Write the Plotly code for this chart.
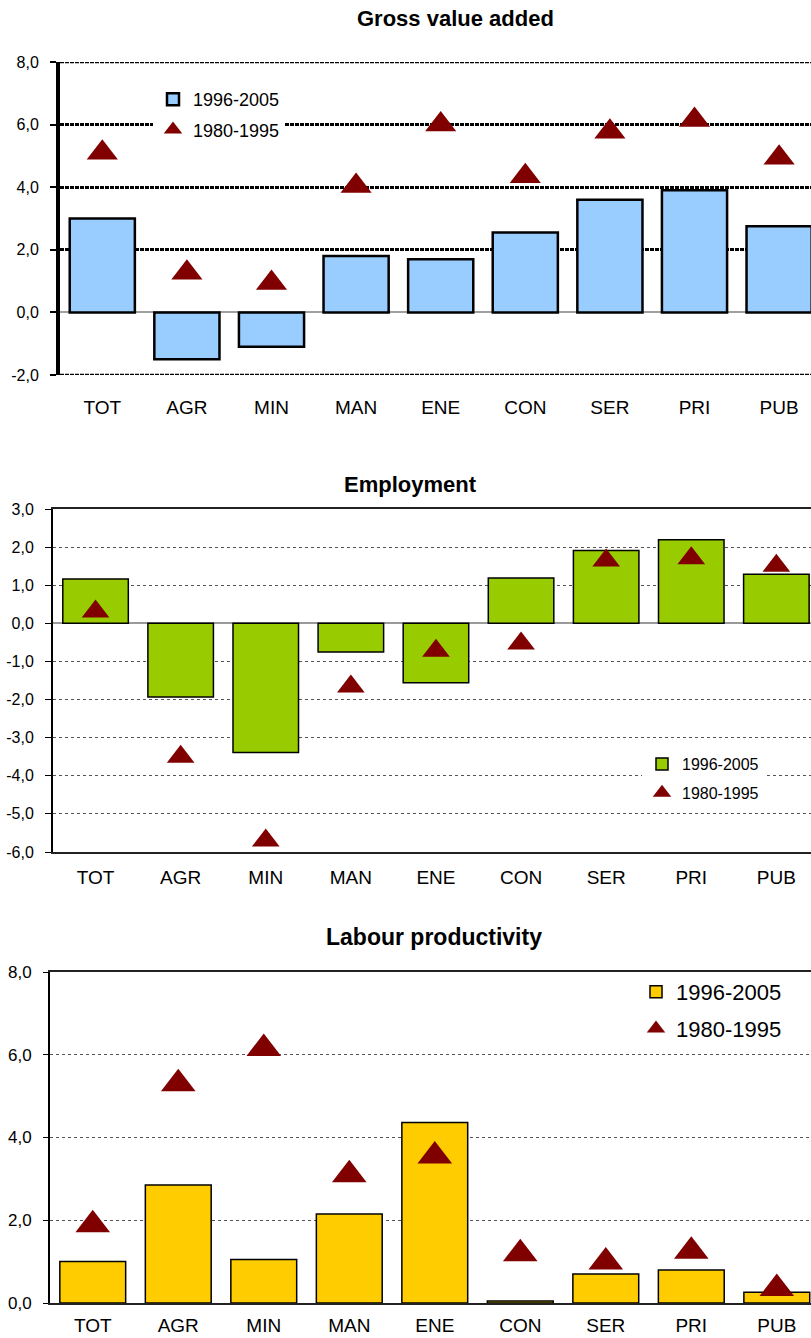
import plotly.graph_objects as go

# ---- data -----------------------------------------------------------------
categories = ["TOT", "AGR", "MIN", "MAN", "ENE", "CON", "SER", "PRI", "PUB"]
periods = ["1996-2005", "1980-1995"]

gva_recent = [3.0, -1.5, -1.1, 1.8, 1.7, 2.55, 3.6, 3.9, 2.75]
gva_early = [5.1, 1.27, 0.94, 4.04, 6.0, 4.35, 5.77, 6.15, 4.94]

emp_recent = [1.16, -1.93, -3.39, -0.75, -1.56, 1.19, 1.91, 2.19, 1.29]
emp_early = [0.31, -3.5, -5.7, -1.66, -0.72, -0.53, 1.65, 1.71, 1.51]

prod_recent = [1.0, 2.85, 1.05, 2.15, 4.36, 0.05, 0.70, 0.80, 0.26]
prod_early = [1.89, 5.30, 6.15, 3.10, 3.55, 1.19, 0.99, 1.25, 0.35]

gva_ticks = [-2, 0, 2, 4, 6, 8]
gva_ticklabels = ["-2,0", "0,0", "2,0", "4,0", "6,0", "8,0"]
emp_ticks = [-6, -5, -4, -3, -2, -1, 0, 1, 2, 3]
emp_ticklabels = ["-6,0", "-5,0", "-4,0", "-3,0", "-2,0", "-1,0", "0,0", "1,0", "2,0", "3,0"]
prod_ticks = [0, 2, 4, 6, 8]
prod_ticklabels = ["0,0", "2,0", "4,0", "6,0", "8,0"]

titles = ["Gross value added", "Employment", "Labour productivity"]

# ---- page geometry (pixels) ----------------------------------------------
W, H = 811, 1338
FONT = "Liberation Sans, Arial, sans-serif"
DARKRED = "#800000"


def py(px):
    """pixel row -> paper fraction"""
    return 1 - px / H


fig = go.Figure()

panels = [
    dict(recent=gva_recent, early=gva_early, color="#99CCFF", edge=2.5,
         tri=27, legend="legend", ax=""),
    dict(recent=emp_recent, early=emp_early, color="#99CC00", edge=1.5,
         tri=24, legend="legend2", ax="2"),
    dict(recent=prod_recent, early=prod_early, color="#FFCC00", edge=1.5,
         tri=30, legend="legend3", ax="3"),
]

for p in panels:
    xa, ya = "x" + p["ax"], "y" + p["ax"]
    fig.add_trace(go.Bar(
        x=categories, y=p["recent"], name=periods[0], width=0.77,
        marker=dict(color=p["color"], line=dict(color="black", width=p["edge"])),
        xaxis=xa, yaxis=ya, legend=p["legend"], legendgroup=p["legend"] + "a",
    ))
    fig.add_trace(go.Scatter(
        x=categories, y=p["early"], name=periods[1], mode="markers",
        marker=dict(symbol="triangle-up", size=p["tri"], color=DARKRED),
        xaxis=xa, yaxis=ya, legend=p["legend"], legendgroup=p["legend"] + "b",
    ))

common_y = dict(tickfont=dict(family=FONT, size=16, color="black"),
                ticks="outside", ticklen=6, tickcolor="black", automargin=False)
common_x = dict(type="category", tickfont=dict(family=FONT, size=19, color="black"),
                ticks="", fixedrange=True, automargin=False)

fig.update_layout(
    # Gross value added: heavy dashed grid, thick left axis
    xaxis=dict(domain=[60 / W, 1], range=[-0.5, 8.377], anchor="y",
               showline=False, showgrid=False, zeroline=False,
               ticklabelstandoff=19, **common_x),
    yaxis=dict(domain=[py(375), py(62)], range=[-2, 8], anchor="x",
               tickvals=gva_ticks, ticktext=gva_ticklabels,
               showgrid=True, gridcolor="black", gridwidth=2.5, griddash="4px,1px",
               zeroline=True, zerolinecolor="#a0a0a0", zerolinewidth=2,
               showline=True, linecolor="black", linewidth=4, tickwidth=2,
               ticklabelstandoff=8, **common_y),
    # Employment: thin dashed grid, framed top and bottom
    xaxis2=dict(domain=[53 / W, 1], range=[-0.5, 8.407], anchor="y2",
                showline=True, mirror=True, linecolor="#222", linewidth=2,
                showgrid=False, zeroline=False, ticklabelstandoff=7, **common_x),
    yaxis2=dict(domain=[py(852), py(509)], range=[-6, 3], anchor="x2",
                tickvals=emp_ticks, ticktext=emp_ticklabels,
                showgrid=True, gridcolor="#555", gridwidth=1, griddash="3px,3px",
                zeroline=True, zerolinecolor="#9a9a9a", zerolinewidth=2,
                showline=True, linecolor="black", linewidth=2, tickwidth=1,
                ticklabelstandoff=8, **common_y),
    # Labour productivity
    xaxis3=dict(domain=[50 / W, 1], range=[-0.5, 8.4], anchor="y3",
                showline=True, mirror=True, linecolor="#222", linewidth=2,
                showgrid=False, zeroline=False, ticklabelstandoff=4, **common_x),
    yaxis3=dict(domain=[py(1303), py(972)], range=[0, 8], anchor="x3",
                tickvals=prod_ticks, ticktext=prod_ticklabels,
                showgrid=True, gridcolor="#555", gridwidth=1, griddash="3px,3px",
                zeroline=False,
                showline=True, linecolor="black", linewidth=2, tickwidth=1,
                ticklabelstandoff=8, automargin=False,
                tickfont=dict(family=FONT, size=17, color="black"),
                ticks="outside", ticklen=5, tickcolor="black"),
)

# heavy dashed frame lines at the top and bottom of the value-added panel
for yv in (gva_ticks[0], gva_ticks[-1]):
    fig.add_shape(type="line", xref="x domain", yref="y", x0=0, x1=1, y0=yv, y1=yv,
                  line=dict(color="black", width=2.5, dash="4px,1px"), layer="below")

legend_base = dict(borderwidth=0, xanchor="left", yanchor="top",
                   traceorder="grouped", itemclick=False)
fig.update_layout(
    legend=dict(x=153 / W, y=py(81), font=dict(family=FONT, size=18, color="black"),
                tracegroupgap=4, bgcolor="white", **legend_base),
    legend2=dict(x=642 / W, y=py(747), font=dict(family=FONT, size=16, color="black"),
                 tracegroupgap=5, bgcolor="white", **legend_base),
    legend3=dict(x=636 / W, y=py(971), font=dict(family=FONT, size=22, color="black"),
                 tracegroupgap=5, bgcolor="rgba(255,255,255,0)", **legend_base),
)

title_pos = [(455, 19, 22), (410, 484, 22), (434, 937, 23)]
for text, (cx, cy, size) in zip(titles, title_pos):
    fig.add_annotation(text=f"<b>{text}</b>", x=cx / W, y=py(cy), xref="paper",
                       yref="paper", showarrow=False, xanchor="center",
                       yanchor="middle", font=dict(family=FONT, size=size, color="black"))

fig.update_layout(
    width=W, height=H, margin=dict(l=0, r=0, t=0, b=0, autoexpand=False),
    paper_bgcolor="white", plot_bgcolor="white",
    showlegend=True,
)

fig.write_html("out.html", config={"displayModeBar": False})
